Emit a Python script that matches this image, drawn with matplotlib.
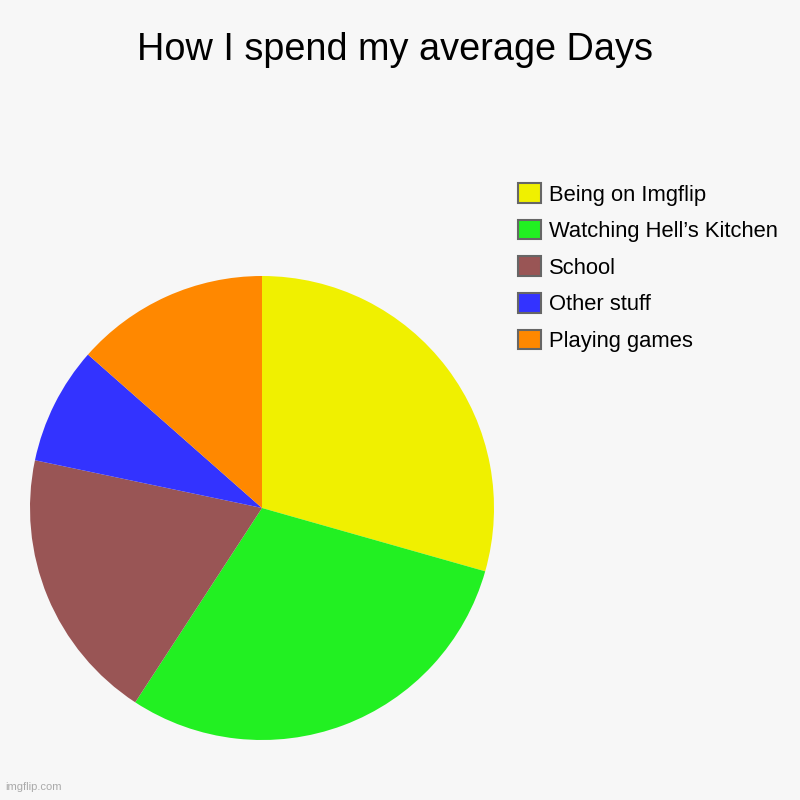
import matplotlib.pyplot as plt
from matplotlib.patches import Patch

# ------------------------------------------------------------
# Data
# ------------------------------------------------------------
TITLE = "How I spend my average Days"
LABELS = ["Being on Imgflip", "Watching Hell\u2019s Kitchen", "School", "Other stuff", "Playing games"]
VALUES = [29.4, 29.8, 19.1, 8.2, 13.5]
COLORS = ["#f0f000", "#22f022", "#995555", "#3333ff", "#ff8800"]

BG = "#f7f7f7"
plt.rcParams["font.family"] = ["Liberation Sans", "DejaVu Sans"]


def main():
    fig = plt.figure(figsize=(8, 8), dpi=100, facecolor=BG)

    # pie axes: centre ~ (262, 508) px, radius ~232 px
    ax = fig.add_axes([0.0375, 0.075, 0.58, 0.58])
    ax.set_facecolor(BG)
    ax.pie(VALUES, colors=COLORS, startangle=90, counterclock=False,
           wedgeprops=dict(linewidth=0), radius=1.0)
    ax.set_xlim(-1, 1)
    ax.set_ylim(-1, 1)
    ax.set_aspect("equal")
    ax.axis("off")

    fig.text(0.494, 0.937, TITLE, ha="center", va="center", fontsize=27.3, color="black")

    handles = [Patch(facecolor=c, edgecolor="#666666", linewidth=1.5) for c in COLORS]
    fig.legend(handles, LABELS, loc="upper left", bbox_to_anchor=(0.6365, 0.782),
               frameon=False, fontsize=15.8, handlelength=1.05, handleheight=1.0,
               handletextpad=0.37, labelspacing=0.65, borderaxespad=0)

    fig.text(0.006, 0.01, "imgflip.com", ha="left", va="bottom", fontsize=8, color="#aaaaaa")

    fig.savefig("out.png", dpi=100, facecolor=BG)


if __name__ == "__main__":
    main()
